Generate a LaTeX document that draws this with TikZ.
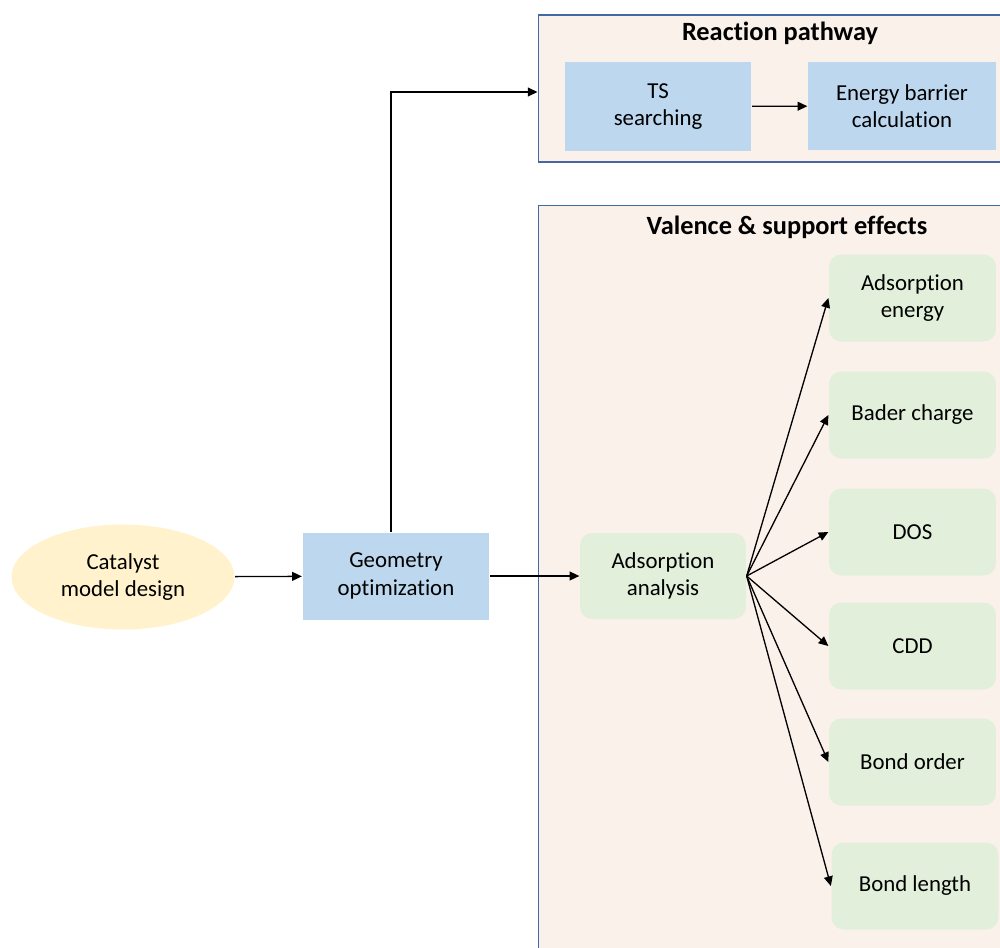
\documentclass[tikz,border=0pt]{standalone}
\usepackage{fontspec}
\setmainfont{Carlito}[Ligatures=NoCommon]
\usetikzlibrary{arrows.meta,shapes.geometric}

\definecolor{designyellow}{HTML}{FFF2CC}
\definecolor{stepblue}{HTML}{BDD7EE}
\definecolor{analysisgreen}{HTML}{E2EFDA}
\definecolor{panelfill}{HTML}{FBF1EB}
\definecolor{panelline}{HTML}{4468A0}

\tikzset{
    panel/.style={draw=panelline, line width=0.6pt, fill=panelfill},
    paneltitle/.style={font=\fontsize{15}{18}\selectfont\bfseries},
    bluebox/.style={fill=stepblue, align=center, font=\fontsize{13}{15.5}\selectfont},
    greenbox/.style={fill=analysisgreen, rounded corners=7pt, align=center,
        font=\fontsize{13}{15.5}\selectfont, minimum width=3.34cm, minimum height=1.74cm},
}

\begin{document}
\begin{tikzpicture}[x=0.02cm, y=-0.02cm, line width=0.75pt,
    >={Triangle[length=5.5pt,width=5pt]}]

        \useasboundingbox (0,0) rectangle (1000,947);

        % panels

        \node [panel, minimum width=9.44cm, minimum height=2.94cm] (rpbox) at (774,88.5) {};
        \node [paneltitle] (rptitle) at (780,33) {Reaction pathway};

        \node [panel, minimum width=9.44cm, minimum height=15.1cm] (vsbox) at (774,582.5) {};
        \node [paneltitle] (vstitle) at (787,227) {Valence \& support effects};

        % main line

        \node [ellipse, fill=designyellow, align=center, font=\fontsize{13}{15.5}\selectfont,
            minimum width=4.46cm, minimum height=2.1cm, inner sep=0pt] (design) at (123,577)
            {Catalyst\\model design};
        \node [bluebox, minimum width=3.74cm, minimum height=1.74cm] (geom) at (396,576)
            {Geometry\\optimization};

        % reaction pathway

        \node [bluebox, minimum width=3.74cm, minimum height=1.78cm] (ts) at (658,106.5)
            {TS\\searching};
        \node [bluebox, minimum width=3.76cm, minimum height=1.76cm] (barrier) at (902,106)
            {Energy barrier\\calculation};

        % valence & support effects

        \node [greenbox, minimum width=3.32cm, minimum height=1.72cm] (ads) at (663,576)
            {Adsorption\\analysis};

        \node [greenbox] (adsenergy) at (912.5,298) {Adsorption\\energy};
        \node [greenbox] (bader) at (912.5,415) {Bader charge};
        \node [greenbox] (dos) at (912.5,532) {DOS};
        \node [greenbox] (cdd) at (912.5,646) {CDD};
        \node [greenbox] (bondorder) at (912.5,762) {Bond order};
        \node [greenbox] (bondlength) at (915,886) {Bond length};

        % arrows

        \draw [->] (design) -- (geom);
        \draw [->] ([xshift=-0.1cm]geom.north) |- ([yshift=-0.07cm]rpbox.west);
        \draw [->] (ts) -- (barrier);
        \draw [->] (geom) -- (ads);

        \draw [->] (ads.east) -- (adsenergy.west);
        \draw [->] (ads.east) -- (bader.west);
        \draw [->] (ads.east) -- (dos.west);
        \draw [->] (ads.east) -- (cdd.west);
        \draw [->] (ads.east) -- (bondorder.west);
        \draw [->] (ads.east) -- (bondlength.west);

\end{tikzpicture}
\end{document}
